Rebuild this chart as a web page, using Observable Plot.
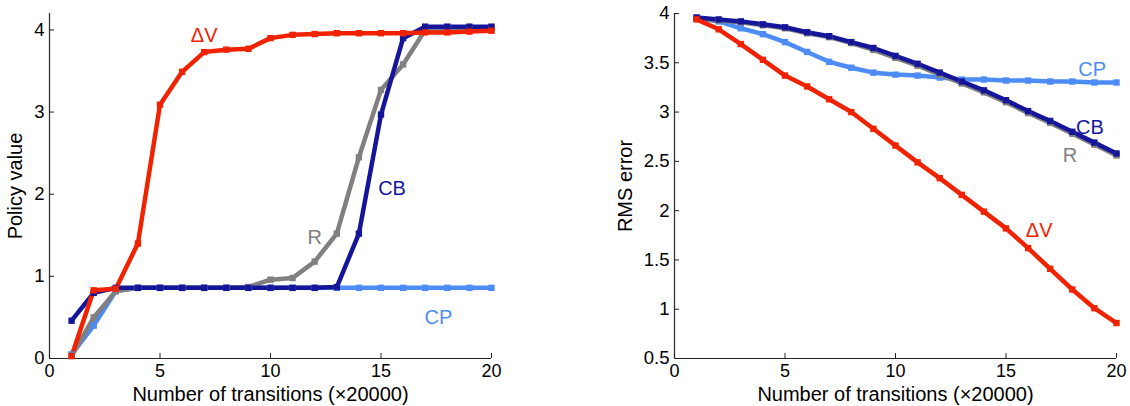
<!DOCTYPE html>
<html>
<head>
<meta charset="utf-8">
<script src="https://cdn.jsdelivr.net/npm/d3@7"></script>
<script src="https://cdn.jsdelivr.net/npm/@observablehq/plot@0.6"></script>
<style>
  html, body { margin: 0; padding: 0; background: #fff; }
  #wrap { position: relative; width: 1130px; height: 406px; }
  #left, #right { position: absolute; top: 0; }
  #left { left: 0; }
  #right { left: 565px; }
  g[aria-label="x-axis label"], g[aria-label="y-axis label"] { font-size: 20px; }
  g[aria-label="x-axis label"] text, g[aria-label="y-axis label"] text { font-size: 20px; }
</style>
</head>
<body>
<div id="wrap"><div id="left"></div><div id="right"></div></div>
<script>
// ---------- data ----------
const transitions = [1,2,3,4,5,6,7,8,9,10,11,12,13,14,15,16,17,18,19,20];
const seriesNames = ["CP", "R", "CB", "ΔV"]; // drawing order
const seriesColors = ["#4d8cf5", "#808080", "#15159a", "#f02200"];

// Left panel: policy value
const policyCP = [0.05,0.40,0.82,0.86,0.86,0.86,0.86,0.86,0.86,0.86,0.86,0.86,0.86,0.86,0.86,0.86,0.86,0.86,0.86,0.86];
const policyR  = [0.03,0.50,0.82,0.86,0.86,0.86,0.86,0.86,0.87,0.96,0.98,1.18,1.52,2.45,3.27,3.58,4.00,4.02,4.02,4.02];
const policyCB = [0.46,0.80,0.86,0.86,0.86,0.86,0.86,0.86,0.86,0.86,0.86,0.86,0.87,1.52,2.97,3.90,4.04,4.04,4.04,4.04];
const policyDV = [0.03,0.83,0.85,1.40,3.09,3.49,3.73,3.76,3.77,3.90,3.94,3.95,3.96,3.96,3.96,3.96,3.97,3.97,3.98,3.99];

// Right panel: RMS error
const rmsCP = [3.95,3.92,3.85,3.79,3.71,3.61,3.51,3.45,3.40,3.38,3.37,3.35,3.33,3.33,3.32,3.32,3.31,3.31,3.30,3.30];
const rmsR  = [3.95,3.93,3.91,3.88,3.85,3.80,3.76,3.70,3.63,3.55,3.47,3.38,3.29,3.20,3.10,2.99,2.89,2.78,2.67,2.56];
const rmsCB = [3.96,3.94,3.92,3.89,3.86,3.81,3.77,3.71,3.65,3.57,3.49,3.40,3.31,3.22,3.12,3.01,2.91,2.80,2.69,2.58];
const rmsDV = [3.94,3.84,3.69,3.53,3.37,3.26,3.13,3.00,2.83,2.66,2.49,2.33,2.16,1.99,1.82,1.62,1.41,1.20,1.01,0.86];

// Series label anchors (data coordinates)
const policyLabelX = [17.6, 12.0, 15.5, 7.0];
const policyLabelY = [0.50, 1.47, 2.07, 3.93];
const rmsLabelX = [18.9, 17.9, 18.8, 16.5];
const rmsLabelY = [3.43, 2.56, 2.84, 1.80];

const xTicks = [0, 5, 10, 15, 20];
const policyTicks = [0, 1, 2, 3, 4];
const rmsTicks = [0.5, 1, 1.5, 2, 2.5, 3, 3.5, 4];

// ---------- helpers ----------
function longTable(arrays) {
  const rows = [];
  arrays.forEach((arr, s) => arr.forEach((v, i) => rows.push({series: seriesNames[s], x: transitions[i], y: v})));
  return rows;
}
function labelTable(xs, ys) {
  return seriesNames.map((name, i) => ({series: name, x: xs[i], y: ys[i]}));
}

const FONT = "'Liberation Sans', Arial, Helvetica, sans-serif";

function panel({data, labels, yDomain, yTicks, yLabel, marginLeft, marginRight, yLabelOffset, yFmt}) {
  return Plot.plot({
    width: 565,
    height: 406,
    marginLeft, marginRight,
    marginTop: 13,
    marginBottom: 48,
    style: {fontFamily: FONT, fontSize: "18px", color: "#000", background: "#fff", overflow: "visible"},
    x: {domain: [0, 20]},
    y: {domain: yDomain},
    color: {domain: seriesNames, range: seriesColors},
    marks: [
      Plot.ruleX([0], {stroke: "#333", strokeWidth: 1.3}),
      Plot.ruleY([yDomain[0]], {x1: 0, x2: 20, stroke: "#222", strokeWidth: 1.2}),
      Plot.axisX({ticks: xTicks, tickSize: -5, tickPadding: 11, stroke: "#222",
        label: "Number of transitions (×20000)", labelAnchor: "center", labelArrow: "none", labelOffset: 42,
        fontSize: 18}),
      Plot.axisY({ticks: yTicks, tickSize: -5, tickPadding: 10, stroke: "#222", tickFormat: yFmt,
        label: yLabel, labelAnchor: "center", labelArrow: "none", labelOffset: yLabelOffset,
        fontSize: 18.5}),
      Plot.line(data, {x: "x", y: "y", z: "series", stroke: "series", strokeWidth: 4.5,
        strokeLinejoin: "round", strokeLinecap: "round"}),
      Plot.dot(data, {x: "x", y: "y", fill: "series", symbol: "square", r: 3.6, stroke: "none"}),
      Plot.text(labels, {x: "x", y: "y", text: "series", fill: "series", fontSize: 20})
    ]
  });
}

document.getElementById("left").append(panel({
  data: longTable([policyCP, policyR, policyCB, policyDV]),
  labels: labelTable(policyLabelX, policyLabelY),
  yDomain: [0, 4.2], yTicks: policyTicks, yLabel: "Policy value",
  marginLeft: 49, marginRight: 74, yLabelOffset: 42, yFmt: d3.format("d")
}));

document.getElementById("right").append(panel({
  data: longTable([rmsCP, rmsR, rmsCB, rmsDV]),
  labels: labelTable(rmsLabelX, rmsLabelY),
  yDomain: [0.5, 4], yTicks: rmsTicks, yLabel: "RMS error",
  marginLeft: 109, marginRight: 14, yLabelOffset: 57, yFmt: d => String(d)
}));
</script>
</body>
</html>
